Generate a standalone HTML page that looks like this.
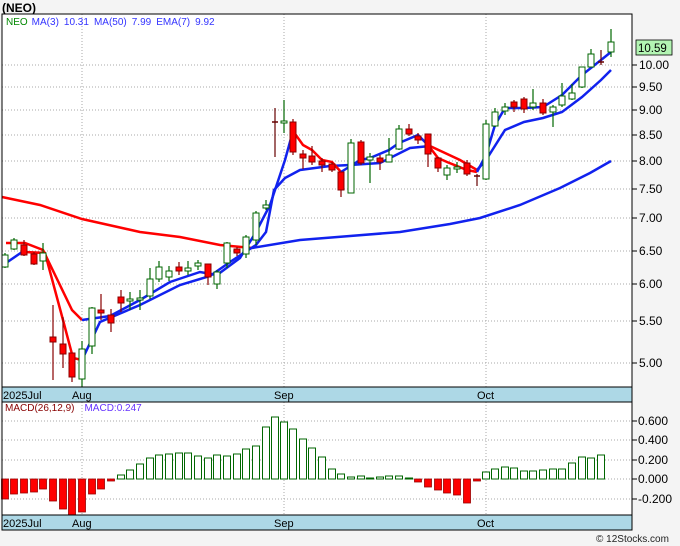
<!DOCTYPE html>
<html><head><meta charset="utf-8"><style>
body{margin:0;background:#f4f4f4;}
svg{display:block;font-family:"Liberation Sans",sans-serif;}
</style></head><body>
<svg id="s" width="680" height="546" xmlns="http://www.w3.org/2000/svg">
<rect x="0" y="0" width="680" height="546" fill="#f4f4f4"/>
<rect x="2" y="14" width="630" height="373" fill="#fff"/>
<rect x="2" y="402" width="630" height="113" fill="#fff"/>
<g id="grid" stroke="#aaa" stroke-dasharray="1,2" stroke-width="1"></g>
<g id="lines" fill="none" stroke-width="2.5"></g>
<g id="c"></g>
<rect x="2" y="387" width="630" height="15" fill="#add8e6" stroke="#000"/>
<rect x="2" y="515" width="630" height="15" fill="#add8e6" stroke="#000"/>
<rect x="2" y="14" width="630" height="516" fill="none" stroke="#000"/>
<line x1="632" y1="14" x2="632" y2="530" stroke="#000"/>
<text x="2" y="12" font-size="12" font-weight="bold">(NEO)</text>
<text x="6" y="25" font-size="10"><tspan fill="#080">NEO</tspan><tspan fill="#33f" dx="4">MA(3)</tspan><tspan fill="#33f" dx="5">10.31</tspan><tspan fill="#33f" dx="5">MA(50)</tspan><tspan fill="#33f" dx="5">7.99</tspan><tspan fill="#33f" dx="5">EMA(7)</tspan><tspan fill="#33f" dx="5">9.92</tspan></text>
<text x="5" y="411" font-size="10"><tspan fill="#800">MACD(26,12,9)</tspan><tspan fill="#63f" dx="10">MACD:0.247</tspan></text>
<g font-size="11" fill="#000">
<text x="3" y="399">2025Jul</text><text x="72" y="399">Aug</text><text x="274" y="399">Sep</text><text x="477" y="399">Oct</text>
<text x="3" y="527">2025Jul</text><text x="72" y="527">Aug</text><text x="274" y="527">Sep</text><text x="477" y="527">Oct</text>
</g>
<g id="ax" font-size="12" fill="#000"></g>
<rect x="636" y="40" width="36" height="15" fill="#b3f5b3" stroke="#000" stroke-width="0.8"/>
<text x="638" y="52" font-size="11.5">10.59</text>
<text x="596" y="542" font-size="10" fill="#222">© 12Stocks.com</text>
</svg>
<script>
var NS="http://www.w3.org/2000/svg";
function el(p,t,a){var e=document.createElementNS(NS,t);for(var k in a)e.setAttribute(k,a[k]);p.appendChild(e);return e;}
var g=document.getElementById('grid'),ax=document.getElementById('ax');
var lv=[[10,65],[9.5,87],[9,110],[8.5,135],[8,161],[7.5,189],[7,218],[6.5,251],[6,284],[5.5,321],[5,363]];
lv.forEach(function(v){el(g,'line',{x1:2,x2:632,y1:v[1],y2:v[1]});el(ax,'line',{x1:632,x2:637,y1:v[1],y2:v[1],stroke:'#000'});
var t=el(ax,'text',{x:639,y:v[1]+4});t.textContent=v[0].toFixed(2);});
[[0.6,421],[0.4,440],[0.2,460],[0,479],[-0.2,499]].forEach(function(v){el(g,'line',{x1:2,x2:632,y1:v[1],y2:v[1]});el(ax,'line',{x1:632,x2:637,y1:v[1],y2:v[1],stroke:'#000'});var t=el(ax,'text',{x:638,y:v[1]+4});t.textContent=(v[0]<0?'-':' ')+Math.abs(v[0]).toFixed(3);});
[82,284,486].forEach(function(x){el(g,'line',{x1:x,x2:x,y1:14,y2:387});el(g,'line',{x1:x,x2:x,y1:402,y2:515});});
var L=document.getElementById('lines');
function pl(pts,c){el(L,'polyline',{points:pts,stroke:c});}
pl("2,197 40,205 82,219 140,232 180,237 220,245 252,248","#f00");
pl("252,248 300,240 350,236 400,232 450,224 480,218 520,205 560,188 590,173 611,161","#12e");
pl("6,243 25,243 43,250 72,310 82,320","#f00");
pl("25,252 45,253 63,320 73,358 82,360","#f00");
pl("6,263 25,250","#12e");
pl("82,320 110,316 140,300 170,282 200,272 217,275 240,258 256,232 270,205 285,160 293,131","#12e");
pl("82,360 100,322 140,305 180,285 210,276 230,262 256,245 266,232 274,190 285,178 300,170 330,166 350,165 380,163 410,148 430,146","#12e");
pl("293,131 303,145 312,150 322,160 332,162 341,172","#f00");
pl("341,172 360,160 370,158 389,150 399,143 418,135 428,145","#12e");
pl("428,145 438,158 447,162 467,170 477,172","#f00");
pl("430,146 460,160 477,170","#f00");
pl("477,172 486,155 495,125 505,108 524,108 543,107 562,95 582,75 601,60 611,52","#12e");
pl("477,170 486,160 505,130 524,122 543,118 562,112 582,97 601,80 611,70","#12e");
var C=document.getElementById('c');
var d=[[5,267,255,253,268],[14,249,240,238,250],[24,245,255,240,256],[34,254,264,252,265],[43,261,253,243,270],[53,337,342,305,380],[63,344,354,317,368],[72,353,377,353,382],[82,379,349,341,387],[92,346,308,307,354],[101,310,313,294,320],[111,315,323,309,332],[121,297,303,290,312],[130,301,299,292,310],[140,300,298,290,310],[150,296,279,268,299],[159,279,267,261,282],[169,277,271,266,281],[179,267,271,262,275],[188,271,268,261,275],[198,266,263,260,270],[208,264,277,264,285],[217,284,272,270,289],[227,263,243,242,268],[237,249,253,247,256],[246,254,237,235,258],[256,240,213,211,245],[266,208,205,200,210],[275,122,122,108,157],[284,123,121,100,133],[293,122,152,119,155],[303,154,158,150,169],[312,156,162,146,165],[322,161,165,158,172],[332,164,170,162,172],[341,172,190,172,197],[351,193,143,139,193],[361,142,163,140,165],[370,160,157,153,183],[380,158,162,155,170],[389,162,155,138,162],[399,149,129,125,150],[409,129,134,124,136],[418,136,140,133,144],[428,134,154,134,167],[438,158,168,157,172],[447,175,168,165,180],[457,169,167,162,173],[467,163,174,160,176],[477,176,176,174,186],[486,179,124,120,180],[495,126,112,108,127],[505,111,107,103,115],[514,102,107,100,112],[524,99,109,97,113],[533,107,103,89,110],[543,103,113,99,115],[553,112,107,105,127],[562,105,96,83,107],[572,99,93,84,100],[582,87,67,67,88],[591,67,54,49,67],[601,62,62,50,65],[611,52,42,29,57]];
d.forEach(function(b){var x=b[0],o=b[1],c=b[2],up=c<o,doji=Math.abs(c-o)<1;
var col=doji?(up?'#060':'#600'):(up?'#060':'#800');
el(C,'line',{x1:x,x2:x,y1:b[3],y2:b[4],stroke:col,'stroke-width':1.2});
if(doji){el(C,'line',{x1:x-3,x2:x+3,y1:o,y2:o,stroke:col,'stroke-width':1.5});}
else el(C,'rect',{x:x-3,y:Math.min(o,c),width:6,height:Math.max(1,Math.abs(c-o)),fill:up?'#fff':'#f00',stroke:up?'#060':'#800','stroke-width':1});});
var h=[499,494,493,492,489,501,509,515,512,494,489,481,475,470,464,458,455,454,453,453,456,458,455,456,454,449,446,427,417,422,429,439,448,457,469,474,477,476,478,477,476,476,478,482,487,490,493,495,503,481,472,469,467,468,471,471,470,469,469,463,457,458,455];
h.forEach(function(v,i){var x=d[i]?d[i][0]:5+i*9.85,z=479;
if(v>z)el(C,'rect',{x:x-3.5,y:z,width:7,height:v-z,fill:'#f00',stroke:'#900','stroke-width':0.8});
else el(C,'rect',{x:x-3.5,y:v,width:7,height:Math.max(1,z-v),fill:'#fff',stroke:'#060','stroke-width':1});});
</script>
</body></html>
